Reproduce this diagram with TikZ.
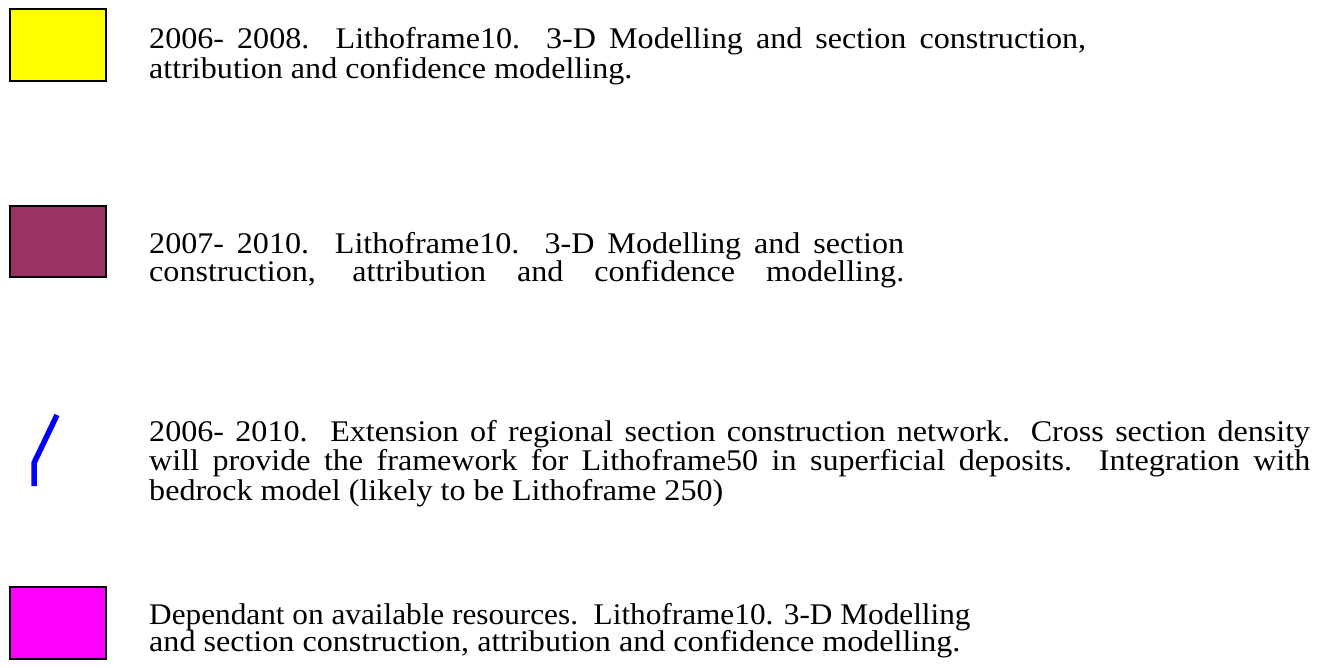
\documentclass[tikz,border=0pt]{standalone}
\usepackage{fontspec}
\usepackage{graphicx}
\setmainfont{Liberation Serif}[FakeStretch=1.07]
\definecolor{plum}{RGB}{153,51,102}
\definecolor{swyellow}{RGB}{255,255,0}
\definecolor{swmagenta}{RGB}{255,0,255}
\definecolor{swblue}{RGB}{0,0,255}
\begin{document}
\begin{tikzpicture}[x=1pt,y=-1pt,
  swatch/.style={draw=black,line width=2pt},
  txt/.style={anchor=base west,inner sep=0pt,text height=19pt,text depth=6pt,font=\fontsize{30}{32}\selectfont}]
\useasboundingbox (0,0) rectangle (1330,668);
% swatches
\draw[swatch,fill=swyellow] (10,9) rectangle (106,81);
\draw[swatch,fill=plum] (10,206) rectangle (106,277);
\draw[swatch,fill=swmagenta] (10,587) rectangle (106,659);
\draw[swblue,line width=5.5pt] (57,415) -- (34,463) -- (34,486);
% section 1
\node[txt] (a1) at (149,49) {\makebox[937pt][s]{2006- 2008.\ \ Lithoframe10. 3-D Modelling and section construction,}};
\node[txt] (a2) at (149,79) {attribution and confidence modelling.};
% section 2
\node[txt] (b1) at (149,254) {\makebox[755pt][s]{2007- 2010.\ \ Lithoframe10. 3-D Modelling and section}};
\node[txt] (b2) at (149,281) {\makebox[755pt][s]{construction, attribution and confidence modelling.}};
% section 3
\node[txt] (c1) at (149,441) {\makebox[1161pt][s]{2006- 2010.\ \ Extension of regional section construction network. Cross section density}};
\node[txt] (c2) at (149,470) {\makebox[1161pt][s]{will provide the framework for Lithoframe50 in superficial deposits.\ \ Integration with}};
\node[txt] (c3) at (149,500) {bedrock model (likely to be Lithoframe 250)};
% section 4
\node[txt] (d1) at (149,624) {\scalebox{0.974}[1]{Dependant on available resources.\ \ Lithoframe10. 3-D Modelling}};
\node[txt] (d2) at (149,651) {and section construction, attribution and confidence modelling.};
\end{tikzpicture}
\end{document}
